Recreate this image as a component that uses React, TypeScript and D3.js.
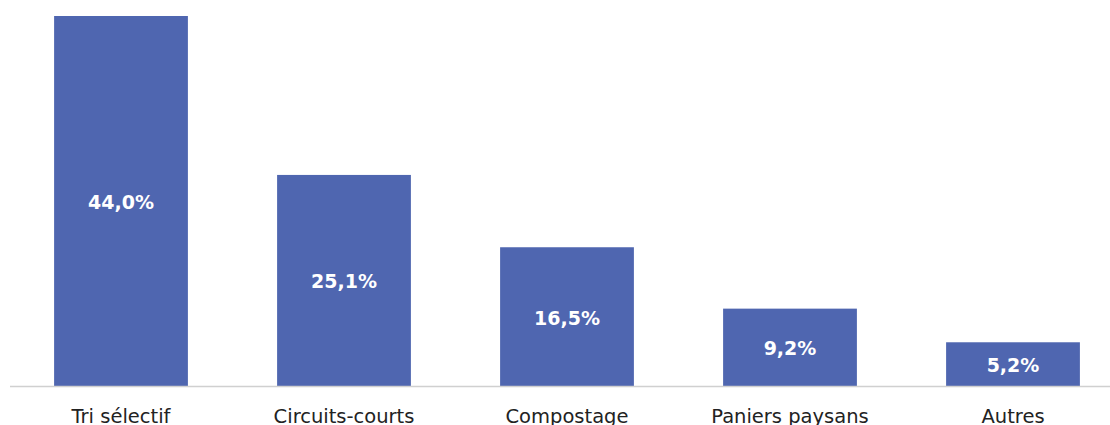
import React from "react";
import * as d3 from "d3";

const categories = ["Tri sélectif", "Circuits-courts", "Compostage", "Paniers paysans", "Autres"];
const values = [44.0, 25.1, 16.5, 9.2, 5.2];

export default function App() {
  const width = 1110;
  const height = 425;
  const x = d3.scaleBand<string>().domain(categories).range([9.5, 1124.5]).paddingInner(0.4).paddingOuter(0.2);
  const y = d3.scaleLinear().domain([0, 44]).range([386, 16]);
  const fmt = (v: number) => v.toFixed(1).replace(".", ",") + "%";
  const font = "'DejaVu Sans', sans-serif";
  return (
    <svg width={width} height={height} style={{ position: "absolute", left: 0, top: 0 }}>
      <rect width={width} height={height} fill="#ffffff" />
      {categories.map((c, i) => {
        const x0 = x(c)!;
        const y0 = y(values[i]);
        return (
          <g key={c}>
            <rect x={x0} y={y0} width={x.bandwidth()} height={y(0) - y0} fill="#4f66b0" />
            <text
              x={x0 + x.bandwidth() / 2}
              y={(y0 + y(0)) / 2 + 8}
              textAnchor="middle"
              fill="#ffffff"
              fontFamily={font}
              fontWeight="bold"
              fontSize={19}
            >
              {fmt(values[i])}
            </text>
            <text
              x={x0 + x.bandwidth() / 2}
              y={423}
              textAnchor="middle"
              fill="#222222"
              fontFamily={font}
              fontSize={19.5}
            >
              {c}
            </text>
          </g>
        );
      })}
      <line x1={10} x2={1110} y1={386.5} y2={386.5} stroke="#d0d0d0" strokeWidth={1.5} />
    </svg>
  );
}
